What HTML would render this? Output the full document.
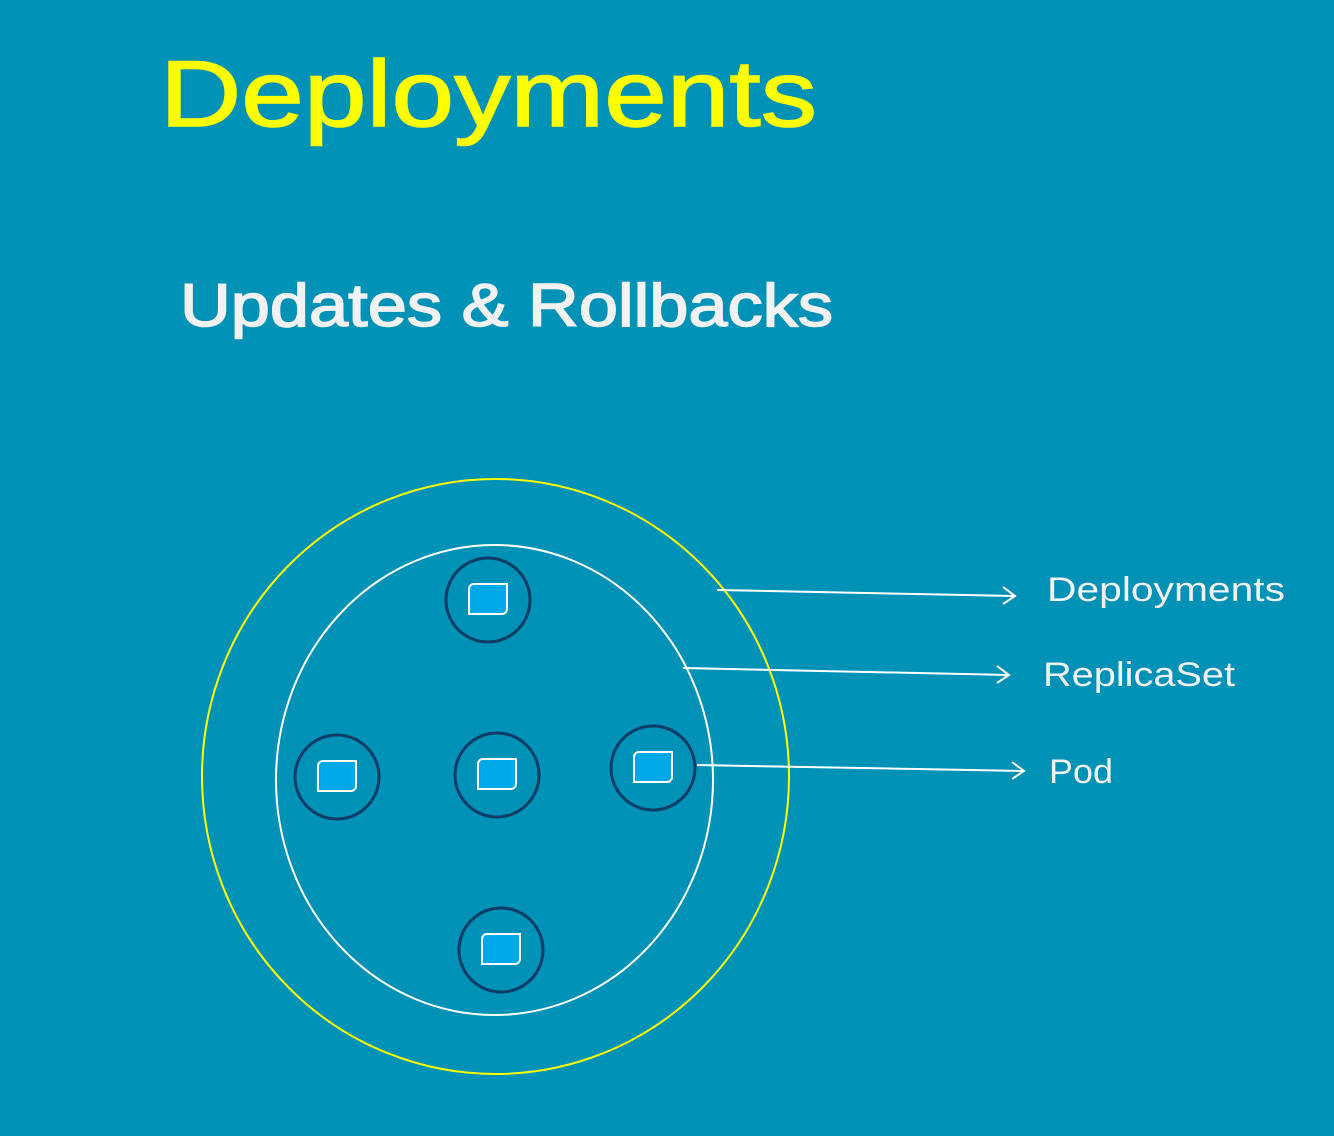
<!DOCTYPE html>
<html><head><meta charset="utf-8"><style>
html,body{margin:0;padding:0;background:#0091b7;}
svg{display:block}
text{font-family:"Liberation Sans",sans-serif;}
</style></head><body>
<svg width="1334" height="1136" viewBox="0 0 1334 1136" xmlns="http://www.w3.org/2000/svg">
<rect width="1334" height="1136" fill="#0091b7"/>
<text x="160" y="126" font-size="94" fill="#ffff00" stroke="#ffff00" stroke-width="1.5" textLength="657" lengthAdjust="spacingAndGlyphs">Deployments</text>
<text x="180" y="326" font-size="60" fill="#f2f2f2" stroke="#f2f2f2" stroke-width="1.5" textLength="653" lengthAdjust="spacingAndGlyphs">Updates &amp; Rollbacks</text>
<ellipse cx="495.5" cy="776.5" rx="293.5" ry="297.5" fill="none" stroke="#ffff00" stroke-width="2"/>
<ellipse cx="494.5" cy="780" rx="218.5" ry="235" fill="none" stroke="#ffffff" stroke-width="2"/>
<g stroke="#0d3d66" stroke-width="3" fill="none">
<circle cx="488" cy="600" r="42"/><circle cx="337" cy="777" r="42"/><circle cx="497" cy="775" r="42"/><circle cx="653" cy="768" r="42"/><circle cx="501" cy="950" r="42"/>
</g>
<g fill="#00a8e8" stroke="#ffffff" stroke-width="2">
<path d="M474 584 h33 v25 a5 5 0 0 1 -5 5 h-33 v-25 a5 5 0 0 1 5 -5z"/>
<path d="M323 761 h33 v25 a5 5 0 0 1 -5 5 h-33 v-25 a5 5 0 0 1 5 -5z"/>
<path d="M483 759 h33 v25 a5 5 0 0 1 -5 5 h-33 v-25 a5 5 0 0 1 5 -5z"/>
<path d="M639 752 h33 v25 a5 5 0 0 1 -5 5 h-33 v-25 a5 5 0 0 1 5 -5z"/>
<path d="M487 934 h33 v25 a5 5 0 0 1 -5 5 h-33 v-25 a5 5 0 0 1 5 -5z"/>
</g>
<g stroke="#ffffff" stroke-width="2" fill="none">
<line x1="717" y1="590" x2="1015" y2="596"/><polyline points="1003,587 1015,596 1003,604"/>
<line x1="683" y1="668" x2="1009" y2="675"/><polyline points="997,666 1009,675 997,683"/>
<line x1="697" y1="765" x2="1024" y2="771"/><polyline points="1012,762 1024,771 1012,779"/>
</g>
<g fill="#f2f2f2" font-size="34">
<text x="1047" y="601" textLength="238" lengthAdjust="spacingAndGlyphs">Deployments</text>
<text x="1043" y="686" textLength="192" lengthAdjust="spacingAndGlyphs">ReplicaSet</text>
<text x="1049" y="783" textLength="64" lengthAdjust="spacingAndGlyphs">Pod</text>
</g>
</svg>
</body></html>
